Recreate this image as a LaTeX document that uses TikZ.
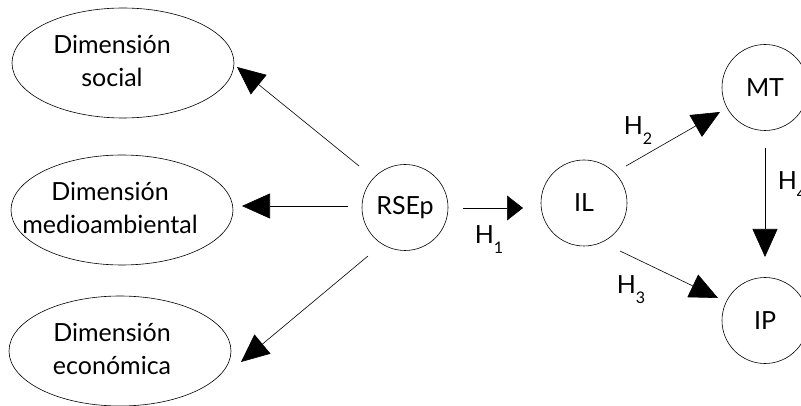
\documentclass[tikz,border=0pt]{standalone}
\usepackage{fontspec}
\setmainfont{Lato}
\usetikzlibrary{arrows.meta,shapes.geometric,calc}
\newcommand{\hsub}[1]{H\raisebox{-0.4em}{\fontsize{16}{16}\selectfont #1}}
\begin{document}
\begin{tikzpicture}[x=1pt,y=-1pt,
  ell/.style={draw, ellipse, line width=0.6pt, minimum width=222pt, minimum height=110pt, inner sep=0pt},
  circ/.style={draw, circle, line width=0.6pt, minimum size=86pt, inner sep=0pt, font=\fontsize{25}{33}\selectfont},
  txt/.style={font=\fontsize{25}{33}\selectfont, align=center, inner sep=0pt},
  arr/.style={line width=0.6pt, -{Triangle[length=28pt,width=25pt]}},
  harr/.style={line width=0.6pt, -{Triangle[length=16pt,width=25pt]}},
  hl/.style={font=\fontsize{25}{25}\selectfont, inner sep=0pt}]
\useasboundingbox (0,0) rectangle (801,406);
\clip (0,0) rectangle (801,406);
% ellipses
\node[ell] (soc) at (123,63) {};
\node[txt] (soct) at (112,61) {Dimensión\\social};
\node[ell] (med) at (122,210) {};
\node[txt] (medt) at (110,208) {Dimensión\\medioambiental};
\node[ell] (eco) at (120,351) {};
\node[txt] (ecot) at (112,349) {Dimensión\\económica};
% circles
\node[circ] (rsep) at (405,207.5) {RSEp};
\node[circ] (il) at (584,203) {IL};
\node[circ] (mt) at (765,87.5) {MT};
\node[circ] (ip) at (765,320.5) {IP};
% connector end points
\coordinate (a1s) at (359,166); \coordinate (a1e) at (237,67);
\coordinate (a2s) at (348,206); \coordinate (a2e) at (242,206);
\coordinate (a3s) at (368,256); \coordinate (a3e) at (241,362);
\coordinate (a4s) at (463,208); \coordinate (a4e) at (523,208);
\coordinate (a5s) at (626,166); \coordinate (a5e) at (720,112);
\coordinate (a6s) at (620,251); \coordinate (a6e) at (718,298);
\coordinate (a7s) at (765,148); \coordinate (a7e) at (765,257);
\draw[arr] (a1s) -- (a1e);
\draw[arr] (a2s) -- (a2e);
\draw[arr] (a3s) -- (a3e);
\draw[harr] (a4s) -- (a4e);
\draw[arr] (a5s) -- (a5e);
\draw[arr] (a6s) -- (a6e);
\draw[arr] (a7s) -- (a7e);
% labels
\node[hl] (h1) at (489,240) {\hsub{1}};
\node[hl] (h2) at (638,131) {\hsub{2}};
\node[hl] (h3) at (631,290) {\hsub{3}};
\node[hl] (h4) at (792,186) {\hsub{4}};
\end{tikzpicture}
\end{document}
